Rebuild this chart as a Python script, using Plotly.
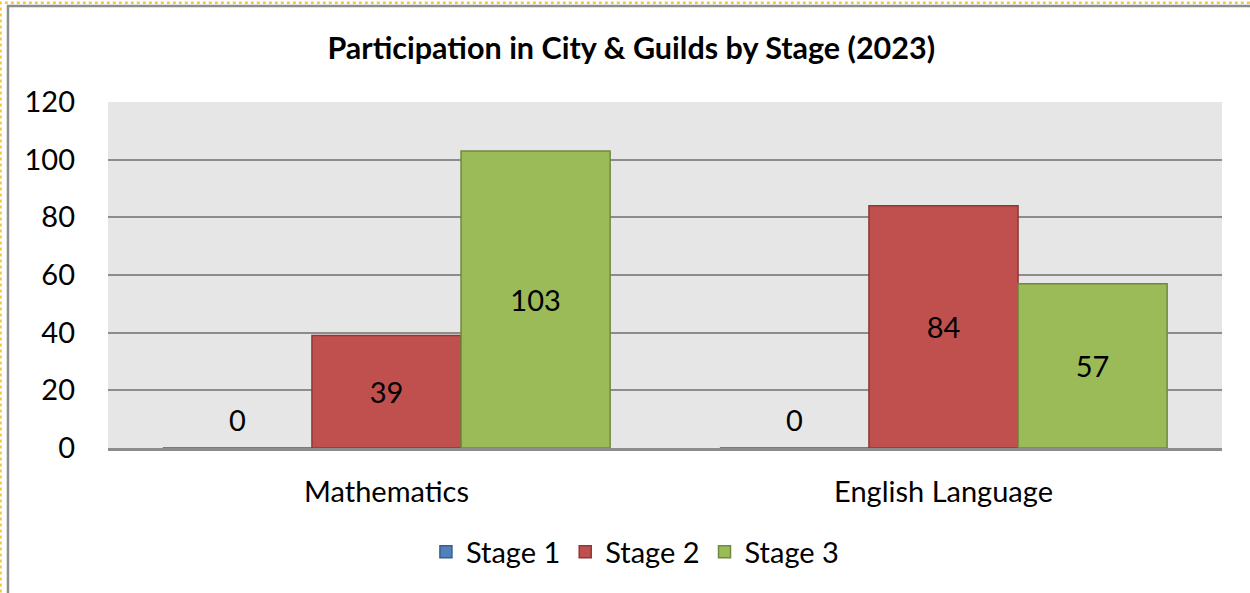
import plotly.graph_objects as go

subjects = ["Mathematics", "English Language"]
stage1 = [0, 0]
stage2 = [39, 84]
stage3 = [103, 57]
y_ticks = [0, 20, 40, 60, 80, 100, 120]

fnt = "Lato, 'Open Sans', sans-serif"
fs = 29

fig = go.Figure()
fig.add_trace(go.Bar(x=subjects, y=stage1, name="Stage 1",
                     marker=dict(color="#4f81bd", line=dict(color="#385d8a", width=1.5))))
fig.add_trace(go.Bar(x=subjects, y=stage2, name="Stage 2", text=stage2,
                     textposition="inside", insidetextanchor="middle",
                     marker=dict(color="#c0504d", line=dict(color="#8c3836", width=1.5))))
fig.add_trace(go.Bar(x=subjects, y=stage3, name="Stage 3", text=stage3,
                     textposition="inside", insidetextanchor="middle",
                     marker=dict(color="#9bbb59", line=dict(color="#71893f", width=1.5))))
fig.update_traces(textfont=dict(size=fs, color="black", family=fnt), textangle=0)

# Stage 1 labels (zero-height bars)
for s, v in zip(subjects, stage1):
    fig.add_annotation(x=s, y=v + 10, text=str(v), showarrow=False, xshift=-149,
                       font=dict(size=fs, color="black", family=fnt))

# outer chart border and selection outline
fig.add_shape(type="rect", xref="paper", yref="paper", x0=-0.0898, x1=1.2, y0=-0.6, y1=1.2775,
              line=dict(color="#8c8c8c", width=2.5), layer="below")
fig.add_shape(type="rect", xref="paper", yref="paper", x0=-0.0965, x1=1.2, y0=-0.6, y1=1.2865,
              line=dict(color="#f5c542", width=2.5, dash="dot"), layer="below")

fig.update_layout(
    width=1250, height=593,
    margin=dict(l=108, r=28, t=102, b=145),
    paper_bgcolor="white", plot_bgcolor="#e6e6e6",
    barmode="group", bargap=0.197, bargroupgap=0,
    font=dict(family=fnt, size=fs, color="black"),
    title=dict(text="<b>Participation in City &amp; Guilds by Stage (2023)</b>",
               x=0.505, xanchor="center", y=0.919, yanchor="middle",
               font=dict(size=30.5, family=fnt, color="black")),
    showlegend=True,
    legend=dict(orientation="h", x=0.473, xanchor="center", y=-0.30, yanchor="middle",
                font=dict(size=fs, family=fnt), itemwidth=30, traceorder="normal"),
)
fig.update_yaxes(range=[0, 120], tickvals=y_ticks, showgrid=True, gridcolor="#8c8c8c",
                 gridwidth=2, zeroline=False, showline=False, ticklabelstandoff=32,
                 tickfont=dict(size=fs, family=fnt), fixedrange=True)
fig.update_xaxes(showline=True, linecolor="#8c8c8c", linewidth=2.5, ticklabelstandoff=16,
                 tickfont=dict(size=fs, family=fnt), fixedrange=True)

fig.write_html("out.html", config={"displayModeBar": False},
               post_script="document.body.style.margin='0';")
